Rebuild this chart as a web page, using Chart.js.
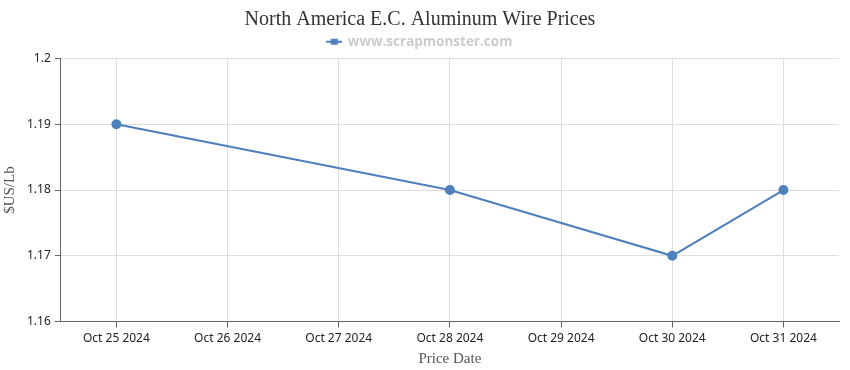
<!DOCTYPE html>
<html>
<head>
<meta charset="utf-8">
<style>
  html, body { margin: 0; padding: 0; background: #fff; }
  #wrap { width: 850px; height: 370px; }
</style>
<script src="https://cdn.jsdelivr.net/npm/chart.js@4.4.1/dist/chart.umd.min.js"></script>
</head>
<body>
<div id="wrap"><canvas id="c" width="850" height="370"></canvas></div>
<script>
const categories = ["Oct 25 2024", "Oct 26 2024", "Oct 27 2024", "Oct 28 2024", "Oct 29 2024", "Oct 30 2024", "Oct 31 2024"];
const prices = [1.19, null, null, 1.18, null, 1.17, 1.18];
const seriesName = "www.scrapmonster.com";
const yTicks = [1.16, 1.17, 1.18, 1.19, 1.2];

const lineColor = "rgb(79,127,189)";

// legend marker: line with square
const marker = document.createElement("canvas");
marker.width = 16; marker.height = 10;
(function () {
  const g = marker.getContext("2d");
  g.strokeStyle = lineColor; g.lineWidth = 2;
  g.beginPath(); g.moveTo(0, 5); g.lineTo(16, 5); g.stroke();
  g.fillStyle = lineColor; g.fillRect(4.5, 2, 7, 6);
})();

new Chart(document.getElementById("c"), {
  type: "line",
  data: {
    labels: categories,
    datasets: [{
      label: seriesName,
      data: prices,
      borderColor: lineColor,
      backgroundColor: lineColor,
      borderWidth: 2,
      pointRadius: 4,
      pointHoverRadius: 5,
      pointBackgroundColor: lineColor,
      pointBorderColor: lineColor,
      spanGaps: true,
      tension: 0,
      pointStyle: "circle"
    }]
  },
  options: {
    responsive: false,
    animation: false,
    devicePixelRatio: 1,
    layout: { padding: { left: 1, right: 11, top: 0, bottom: 2 } },
    plugins: {
      title: {
        display: true,
        text: "North America E.C. Aluminum Wire Prices",
        color: "#333",
        font: { family: "'Liberation Serif', 'DejaVu Serif', serif", size: 20, weight: "normal" },
        padding: { top: 8, bottom: 0 }
      },
      legend: {
        display: true,
        labels: {
          usePointStyle: true,
          pointStyle: marker,
          color: "#ccc",
          font: { family: "'Open Sans', 'DejaVu Sans', sans-serif", size: 13.5, weight: "bold" },
          padding: 3,
          boxWidth: 16
        }
      },
      tooltip: { enabled: false }
    },
    scales: {
      x: {
        type: "category",
        offset: true,
        grid: { color: "#ddd", offset: false, tickLength: 6, tickColor: "#666", drawTicks: true },
        border: { color: "#666", width: 1 },
        ticks: {
          color: "#222",
          font: { family: "'Noto Sans', 'Open Sans', sans-serif", size: 12 },
          maxRotation: 0, autoSkip: false, padding: 4
        },
        title: {
          display: true, text: "Price Date", color: "#555",
          font: { family: "'Liberation Serif', serif", size: 15 },
          padding: { top: 0, bottom: 0 }
        }
      },
      y: {
        min: 1.16, max: 1.2,
        afterBuildTicks: (axis) => { axis.ticks = yTicks.map(v => ({ value: v })); },
        grid: { color: "#ddd", tickLength: 6, tickColor: "#666" },
        border: { color: "#666", width: 1 },
        ticks: {
          color: "#222",
          font: { family: "'Noto Sans', 'Open Sans', sans-serif", size: 12 },
          padding: 4,
          callback: (v) => String(parseFloat(Number(v).toFixed(2)))
        },
        title: {
          display: true, text: "$US/Lb", color: "#555",
          font: { family: "'Liberation Serif', serif", size: 15 },
          padding: { top: 0, bottom: 4 }
        }
      }
    }
  }
});
</script>
</body>
</html>
